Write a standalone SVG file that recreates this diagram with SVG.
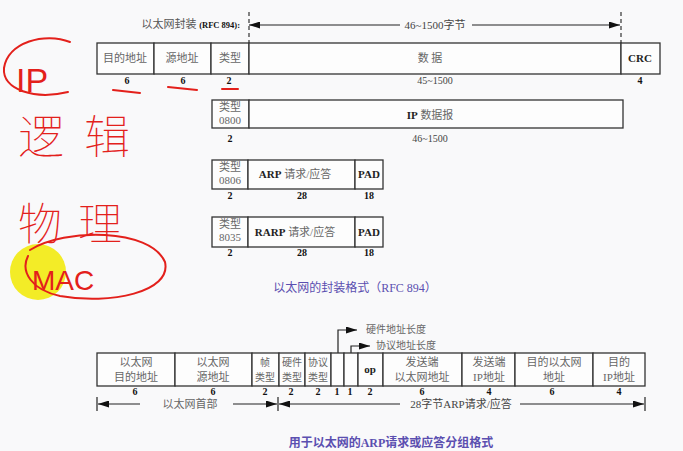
<svg xmlns="http://www.w3.org/2000/svg" width="683" height="451" viewBox="0 0 683 451">
<defs>
<marker id="ah" markerWidth="11" markerHeight="7" refX="11" refY="3.5" orient="auto-start-reverse" markerUnits="userSpaceOnUse"><path d="M0,0 L11,3.5 L0,7 z" fill="#111"/></marker>
<style>
.c{fill:#fdfdfd;stroke:#333;stroke-width:1.3}
.t{font-family:"Liberation Serif","Noto Sans CJK SC",serif;font-size:11px;fill:#666;text-anchor:middle}
.e{font-family:"Liberation Serif","Noto Sans CJK SC",serif;font-size:11px;fill:#222;text-anchor:middle;font-weight:bold}
.n{font-family:"Liberation Serif",serif;font-size:10px;fill:#111;text-anchor:middle;font-weight:bold}
.cap{font-family:"Liberation Serif","Noto Sans CJK SC",serif;font-size:12px;fill:#5b4fb0;text-anchor:middle}
.ln{stroke:#222;stroke-width:1.2;fill:none}
.dash{stroke:#333;stroke-width:1.2;stroke-dasharray:4 3;fill:none}
.red{stroke:#e3201b;stroke-width:2;fill:none;stroke-linecap:round}
.hw{font-family:"Noto Sans CJK SC",sans-serif;fill:#e3201b;font-weight:100}
.hl{font-family:"Liberation Sans",sans-serif;fill:#e3201b}
</style>
</defs>
<rect width="683" height="451" fill="#f9f9fa"/>

<g id="hdr1">
<text x="240" y="28" text-anchor="end" style="font-family:'Liberation Serif','Noto Sans CJK SC',serif;font-size:11px;fill:#555">以太网封装 <tspan style="font-size:8.5px;font-weight:bold;fill:#111">(RFC 894):</tspan></text>
<text class="t" x="435" y="29" style="fill:#444">46~1500字节</text>
</g>

<g id="connectors">
<line class="dash" x1="249" y1="12" x2="249" y2="43"/>
<line class="dash" x1="621" y1="12" x2="621" y2="43"/>
<line class="ln" x1="249" y1="25" x2="400" y2="25" marker-start="url(#ah)"/>
<line class="ln" x1="472" y1="25" x2="620" y2="25" marker-end="url(#ah)"/>
<polyline class="ln" points="338,353 338,330 357,330" marker-end="url(#ah)"/>
<polyline class="ln" points="351,353 351,346 370,346" marker-end="url(#ah)"/>
<line class="ln" x1="97" y1="397" x2="97" y2="411"/>
<line class="ln" x1="278" y1="397" x2="278" y2="411"/>
<line class="ln" x1="645" y1="397" x2="645" y2="411"/>
<line class="ln" x1="98" y1="404" x2="140" y2="404" marker-start="url(#ah)"/>
<line class="ln" x1="233" y1="404" x2="277" y2="404" marker-end="url(#ah)"/>
<line class="ln" x1="279" y1="404" x2="400" y2="404" marker-start="url(#ah)"/>
<line class="ln" x1="520" y1="404" x2="644" y2="404" marker-end="url(#ah)"/>
</g>

<g id="eth-frame">
<rect class="c" x="97" y="43" width="57" height="31"/>
<rect class="c" x="154" y="43" width="57" height="31"/>
<rect class="c" x="211" y="43" width="38" height="31"/>
<rect class="c" x="249" y="43" width="372" height="31"/>
<rect class="c" x="621" y="43" width="39" height="31"/>
<text class="t" x="125" y="62">目的地址</text>
<text class="t" x="182" y="62">源地址</text>
<text class="t" x="230" y="62">类型</text>
<text class="t" x="430" y="62">数 据</text>
<text class="e" x="640" y="62">CRC</text>
<text class="n" x="127" y="84">6</text>
<text class="n" x="183" y="84">6</text>
<text class="n" x="229" y="84">2</text>
<text class="t" x="435" y="84" style="fill:#444;font-size:10px">45~1500</text>
<text class="n" x="640" y="84">4</text>
</g>

<g id="ip-frame">
<rect class="c" x="212" y="100" width="37" height="28"/>
<rect class="c" x="249" y="100" width="374" height="28"/>
<text class="t" x="230" y="111">类型</text>
<text class="t" x="230" y="124">0800</text>
<text class="e" x="430" y="119" style="font-weight:normal"><tspan font-weight="bold">IP</tspan><tspan fill="#666"> 数据报</tspan></text>
<text class="n" x="230" y="142">2</text>
<text class="t" x="430" y="142" style="fill:#444;font-size:10px">46~1500</text>
</g>

<g id="arp-frame">
<rect class="c" x="212" y="160" width="36" height="29"/>
<rect class="c" x="248" y="160" width="107" height="29"/>
<rect class="c" x="355" y="160" width="28" height="29"/>
<text class="t" x="230" y="171">类型</text>
<text class="t" x="230" y="184">0806</text>
<text class="e" x="295" y="178" style="font-weight:normal"><tspan font-weight="bold">ARP</tspan><tspan fill="#666"> 请求/应答</tspan></text>
<text class="e" x="369" y="178">PAD</text>
<text class="n" x="230" y="199">2</text>
<text class="n" x="302" y="199">28</text>
<text class="n" x="369" y="199">18</text>
</g>

<g id="rarp-frame">
<rect class="c" x="212" y="217" width="36" height="30"/>
<rect class="c" x="248" y="217" width="107" height="30"/>
<rect class="c" x="355" y="217" width="28" height="30"/>
<text class="t" x="230" y="228">类型</text>
<text class="t" x="230" y="241">8035</text>
<text class="e" x="295" y="236" style="font-weight:normal"><tspan font-weight="bold">RARP</tspan><tspan fill="#666"> 请求/应答</tspan></text>
<text class="e" x="369" y="236">PAD</text>
<text class="n" x="230" y="256">2</text>
<text class="n" x="302" y="256">28</text>
<text class="n" x="369" y="256">18</text>
</g>

<g id="caption1"><text class="cap" x="355" y="292">以太网的封装格式（RFC 894）</text></g>

<g id="arp-packet">
<rect class="c" x="97" y="353" width="78" height="33"/>
<rect class="c" x="175" y="353" width="77" height="33"/>
<rect class="c" x="252" y="353" width="27" height="33"/>
<rect class="c" x="279" y="353" width="26" height="33"/>
<rect class="c" x="305" y="353" width="26" height="33"/>
<rect class="c" x="331" y="353" width="13" height="33"/>
<rect class="c" x="344" y="353" width="14" height="33"/>
<rect class="c" x="358" y="353" width="25" height="33"/>
<rect class="c" x="383" y="353" width="79" height="33"/>
<rect class="c" x="462" y="353" width="53" height="33"/>
<rect class="c" x="515" y="353" width="78" height="33"/>
<rect class="c" x="593" y="353" width="52" height="33"/>
<text class="t" x="136" y="366">以太网</text><text class="t" x="136" y="381">目的地址</text>
<text class="t" x="213" y="366">以太网</text><text class="t" x="213" y="381">源地址</text>
<text class="t" x="265" y="366" style="font-size:10px">帧</text><text class="t" x="265" y="381" style="font-size:10px">类型</text>
<text class="t" x="292" y="366" style="font-size:10px">硬件</text><text class="t" x="292" y="381" style="font-size:10px">类型</text>
<text class="t" x="318" y="366" style="font-size:10px">协议</text><text class="t" x="318" y="381" style="font-size:10px">类型</text>
<text class="e" x="370" y="373">op</text>
<text class="t" x="422" y="366">发送端</text><text class="t" x="422" y="381">以太网地址</text>
<text class="t" x="489" y="366">发送端</text><text class="t" x="489" y="381">IP地址</text>
<text class="t" x="554" y="366">目的以太网</text><text class="t" x="554" y="381">地址</text>
<text class="t" x="619" y="366">目的</text><text class="t" x="619" y="381">IP地址</text>
<text class="n" x="135" y="395">6</text>
<text class="n" x="213" y="395">6</text>
<text class="n" x="265" y="395">2</text>
<text class="n" x="291" y="395">2</text>
<text class="n" x="318" y="395">2</text>
<text class="n" x="337" y="395">1</text>
<text class="n" x="350" y="395">1</text>
<text class="n" x="370" y="395">2</text>
<text class="n" x="422" y="395">6</text>
<text class="n" x="489" y="395">4</text>
<text class="n" x="552" y="395">6</text>
<text class="n" x="619" y="395">4</text>
<text class="t" x="396" y="333" style="font-size:10px">硬件地址长度</text>
<text class="t" x="406" y="349" style="font-size:10px">协议地址长度</text>
<text class="t" x="190" y="408">以太网首部</text>
<text class="t" x="461" y="408" style="fill:#444">28字节ARP请求/应答</text>
</g>

<g id="caption2"><text class="cap" x="391" y="447" style="font-weight:bold">用于以太网的ARP请求或应答分组格式</text></g>

<g id="annotations">
<circle cx="38" cy="272" r="28" fill="#f2ea10" opacity="0.9"/>
<path class="red" d="M113,90 L140,93"/>
<path class="red" d="M168,87 L197,90"/>
<path class="red" d="M222,89 L238,89"/>
<path class="red" d="M70,42 C45,32 8,42 4,68 C2,90 35,100 68,92"/>
<path class="red" d="M30,250 C65,228 150,228 165,262 C172,292 110,305 60,296 C32,290 20,272 28,256"/>
<text class="hl" x="16" y="92" style="font-size:34px">IP</text>
<text class="hw" x="18" y="153" style="font-size:46px;letter-spacing:20px">逻辑</text>
<text class="hw" x="18" y="240" style="font-size:44px;letter-spacing:16px">物理</text>
<text class="hl" x="32" y="290" style="font-size:28px">MAC</text>
</g>
</svg>
